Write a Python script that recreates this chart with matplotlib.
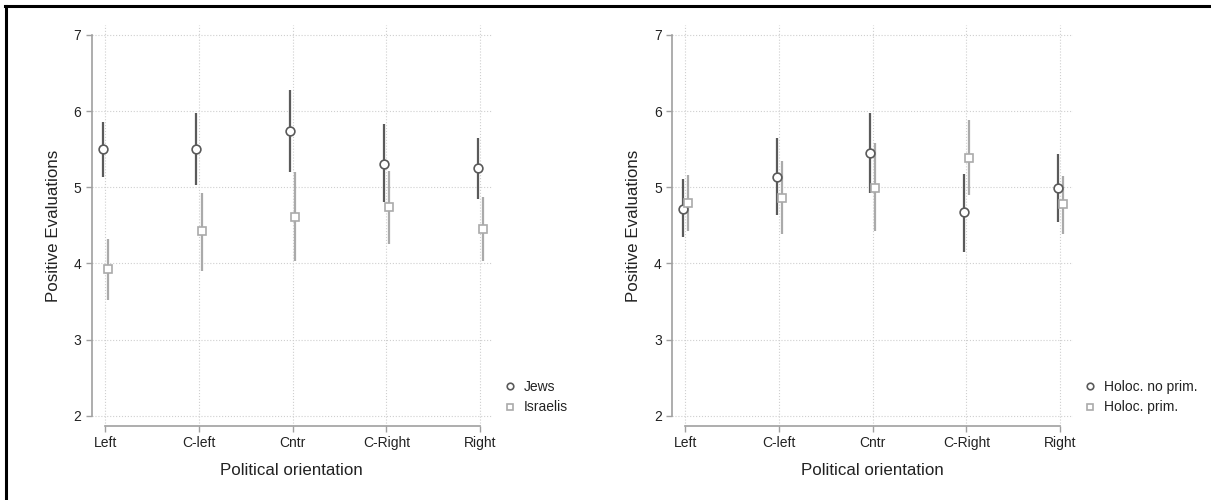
import numpy as np
import matplotlib.pyplot as plt
from matplotlib.lines import Line2D

plt.rcParams['font.family'] = ['Liberation Sans', 'DejaVu Sans']

categories = ['Left', 'C-left', 'Cntr', 'C-Right', 'Right']

# Panel 1: means and 95% CIs by target group
jews_mean = [5.50, 5.50, 5.74, 5.31, 5.25]
jews_lo = [5.14, 5.03, 5.20, 4.80, 4.85]
jews_hi = [5.85, 5.97, 6.28, 5.83, 5.65]

isr_mean = [3.92, 4.42, 4.61, 4.74, 4.45]
isr_lo = [3.52, 3.90, 4.03, 4.26, 4.03]
isr_hi = [4.32, 4.93, 5.20, 5.21, 4.87]

# Panel 2: Holocaust priming condition
noprim_mean = [4.72, 5.14, 5.45, 4.67, 4.99]
noprim_lo = [4.34, 4.63, 4.92, 4.15, 4.54]
noprim_hi = [5.11, 5.64, 5.98, 5.18, 5.43]

prim_mean = [4.79, 4.86, 4.99, 5.39, 4.78]
prim_lo = [4.42, 4.39, 4.42, 4.90, 4.39]
prim_hi = [5.16, 5.34, 5.58, 5.88, 5.15]

DARK = '#5a5a5a'
LIGHT = '#aaaaaa'
AXIS = '#a0a0a0'
TEXT = '#222222'

fig = plt.figure(figsize=(12.11, 5.0), dpi=100)
ax1 = fig.add_axes([0.0758, 0.148, 0.3303, 0.802])
ax2 = fig.add_axes([0.555, 0.148, 0.3308, 0.802])

# frame lines along the top and left edge
fig.add_artist(Line2D([6 / 1211, 6 / 1211], [0, 494 / 500], color='black', lw=2.2))
fig.add_artist(Line2D([5 / 1211, 1], [494 / 500, 494 / 500], color='black', lw=2.2))


def panel(ax, s1, s2, lab1, lab2, xmax, leg_x):
    x = np.arange(1, len(categories) + 1)
    off = 0.028
    for (m, lo, hi), col, mk, dx, lab in [(s1, DARK, 'o', -off, lab1),
                                           (s2, LIGHT, 's', off, lab2)]:
        m = np.array(m)
        ax.vlines(x + dx, lo, hi, color=col, lw=1.6, zorder=3)
        ax.plot(x + dx, m, ls='none', marker=mk, ms=6.3, mfc='white',
                mec=col, mew=1.2, zorder=4, label=lab)
    ax.set_xlim(0.857, xmax)
    ax.set_ylim(1.865, 7.13)
    ax.set_xticks(x)
    ax.set_xticklabels(categories)
    ax.set_yticks([2, 3, 4, 5, 6, 7])
    for side in ['top', 'right']:
        ax.spines[side].set_visible(False)
    for side in ['left', 'bottom']:
        ax.spines[side].set_color(AXIS)
        ax.spines[side].set_linewidth(1.2)
    ax.spines['left'].set_bounds(2, 7)
    ax.spines['bottom'].set_bounds(1, 5)
    ax.tick_params(axis='both', colors=AXIS, labelcolor=TEXT, labelsize=10,
                   length=4.5, width=1.0, pad=3)
    ax.grid(True, ls=':', color='#cfcfcf', lw=0.8)
    ax.set_axisbelow(True)
    ax.set_ylabel('Positive Evaluations', fontsize=12.2, color=TEXT, labelpad=9)
    ax.set_xlabel('Political orientation', fontsize=12.2, color=TEXT, labelpad=9)
    ax.legend(loc='upper left', bbox_to_anchor=(leg_x, 0.128), frameon=False,
              fontsize=10, handlelength=0.8, handletextpad=0.6, markerscale=0.75,
              labelspacing=0.45, borderaxespad=0, labelcolor=TEXT)


panel(ax1, (jews_mean, jews_lo, jews_hi), (isr_mean, isr_lo, isr_hi),
      'Jews', 'Israelis', 5.123, 1.017)
panel(ax2, (noprim_mean, noprim_lo, noprim_hi), (prim_mean, prim_lo, prim_hi),
      'Holoc. no prim.', 'Holoc. prim.', 5.134, 1.015)

fig.savefig('out.png', dpi=100, facecolor='white')
